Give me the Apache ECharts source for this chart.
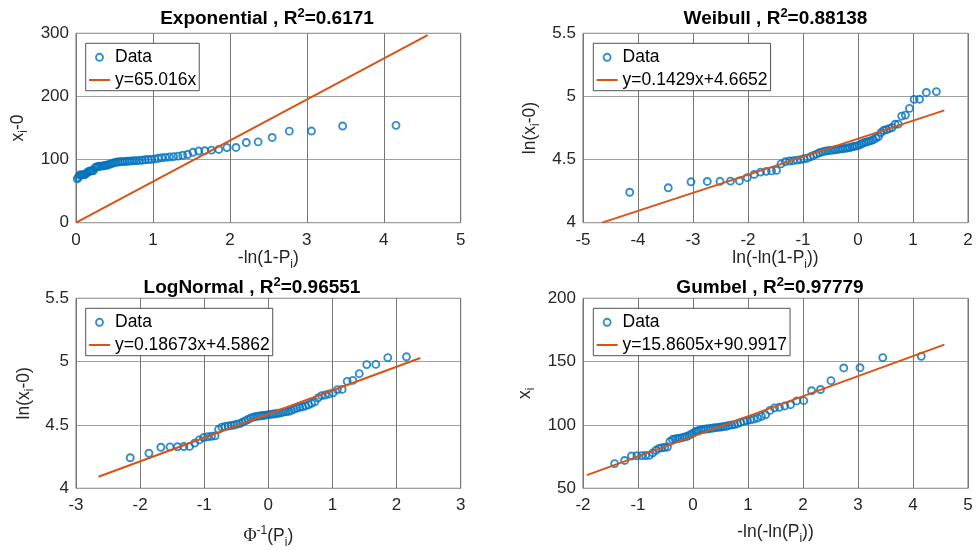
<!DOCTYPE html>
<html>
<head>
<meta charset="utf-8">
<script src="https://cdn.jsdelivr.net/npm/echarts@6/dist/echarts.min.js"></script>
<style>
  html, body { margin: 0; padding: 0; background: #fff; }
  #chart { width: 976px; height: 550px; }
</style>
</head>
<body>
<div id="chart"></div>
<script>
// Sorted sample, n = 63
const sample = [
  69.5, 72, 75.5, 75.7, 75.8, 75.9, 76, 78, 80, 81.5,
  82, 82.3, 82.6, 87, 88.5, 89, 89.3, 89.6, 90, 90.6,
  91, 92, 93, 94, 95, 95.7, 96.2, 96.5, 96.8, 97,
  97.3, 97.6, 97.9, 98.1, 98.4, 98.7, 99, 99.6, 100, 100.3,
  101, 102, 102.8, 103.5, 104, 104.6, 105.5, 106.8, 108, 111.5,
  113.5, 114, 115, 116, 119, 119.2, 127, 128, 135, 145,
  145.2, 153.2, 154.2
];

// Fitted lines: [slope, intercept]
const expFit = [65.016, 0];
const weiFit = [0.1429, 4.6652];
const logFit = [0.18673, 4.5862];
const gumFit = [15.8605, 90.9917];

// Horizontal extent of each fitted line
const expSpan = [0, 4.57];
const weiSpan = [-4.65, 1.57];
const logSpan = [-2.65, 2.37];
const gumSpan = [-1.93, 4.57];

// Panel texts
const panelNames = ['Exponential', 'Weibull', 'LogNormal', 'Gumbel'];
const rSquared = ['0.6171', '0.88138', '0.96551', '0.97779'];
const fitLabels = ['y=65.016x', 'y=0.1429x+4.6652', 'y=0.18673x+4.5862', 'y=15.8605x+90.9917'];

// Axis ranges: [min, max, interval]
const xRanges = [[0, 5, 1], [-5, 2, 1], [-3, 3, 1], [-2, 5, 1]];
const yRanges = [[0, 300, 100], [4, 5.5, 0.5], [4, 5.5, 0.5], [50, 200, 50]];

// Inverse standard normal CDF (Acklam)
function normInv(p) {
  const a = [-3.969683028665376e+01, 2.209460984245205e+02, -2.759285104469687e+02, 1.383577518672690e+02, -3.066479806614716e+01, 2.506628277459239e+00];
  const b = [-5.447609879822406e+01, 1.615858368580409e+02, -1.556989798598866e+02, 6.680131188771972e+01, -1.328068155288572e+01];
  const c = [-7.784894002430293e-03, -3.223964580411365e-01, -2.400758277161838e+00, -2.549732539343734e+00, 4.374664141464968e+00, 2.938163982698783e+00];
  const d = [7.784695709041462e-03, 3.224671290700398e-01, 2.445134137142996e+00, 3.754408661907416e+00];
  const pl = 0.02425, ph = 1 - pl;
  let q, r;
  if (p < pl) {
    q = Math.sqrt(-2 * Math.log(p));
    return (((((c[0]*q+c[1])*q+c[2])*q+c[3])*q+c[4])*q+c[5]) / ((((d[0]*q+d[1])*q+d[2])*q+d[3])*q+1);
  }
  if (p > ph) {
    q = Math.sqrt(-2 * Math.log(1 - p));
    return -(((((c[0]*q+c[1])*q+c[2])*q+c[3])*q+c[4])*q+c[5]) / ((((d[0]*q+d[1])*q+d[2])*q+d[3])*q+1);
  }
  q = p - 0.5; r = q * q;
  return (((((a[0]*r+a[1])*r+a[2])*r+a[3])*r+a[4])*r+a[5])*q / (((((b[0]*r+b[1])*r+b[2])*r+b[3])*r+b[4])*r+1);
}

// Plotting positions P_i = i/(n+1) and the four probability-paper transforms
const n = sample.length;
const P = sample.map((_, i) => (i + 1) / (n + 1));
const expPts = sample.map((v, i) => [-Math.log(1 - P[i]), v]);
const weiPts = sample.map((v, i) => [Math.log(-Math.log(1 - P[i])), Math.log(v)]);
const logPts = sample.map((v, i) => [normInv(P[i]), Math.log(v)]);
const gumPts = sample.map((v, i) => [-Math.log(-Math.log(P[i])), v]);

function fitLine(fit, span) {
  return span.map(x => [x, fit[0] * x + fit[1]]);
}

const FONT = 'Liberation Sans, Arial, Helvetica, sans-serif';
const INK = '#262626';
const BLUE = '#0072BD';
const ORANGE = '#D95319';

const grids = [
  { left: 76, top: 33.3, width: 384.7, height: 189.4 },
  { left: 583, top: 33.3, width: 385, height: 189.4 },
  { left: 76, top: 298.3, width: 384.7, height: 190 },
  { left: 583, top: 298.3, width: 385, height: 190 }
];

const nameRich = {
  n: { fontSize: 17.5, lineHeight: 24, fontFamily: FONT, color: INK },
  s: { fontSize: 12, lineHeight: 12, verticalAlign: 'bottom', fontFamily: FONT, color: INK },
  p: { fontSize: 12, lineHeight: 12, verticalAlign: 'top', fontFamily: FONT, color: INK },
  f: { fontSize: 18, lineHeight: 24, fontFamily: 'Liberation Serif, serif', color: INK }
};

const xNames = [
  '{n|-ln(1-P}{s|i}{n|)}',
  '{n|ln(-ln(1-P}{s|i}{n|))}',
  '{f|\u03A6}{p|-1}{n|(P}{s|i}{n|)}',
  '{n|-ln(-ln(P}{s|i}{n|))}'
];
const yNames = [
  '{n|x}{s|i}{n|-0}',
  '{n|ln(x}{s|i}{n|-0)}',
  '{n|ln(x}{s|i}{n|-0)}',
  '{n|x}{s|i}'
];
const xNameGaps = [20, 23, 36, 32];
const yNameGaps = [46, 41, 40, 46];

const titlePos = [[267, 7], [775.5, 6.5], [252, 275.5], [770, 275.5]];
const legendPos = [[85.7, 43.3], [593.3, 43.3], [85.7, 308.3], [593.3, 308.3]];

const xAxis = xRanges.map((r, k) => ({
  type: 'value', gridIndex: k, min: r[0], max: r[1], interval: r[2],
  name: xNames[k], nameLocation: 'middle', nameGap: xNameGaps[k],
  nameTextStyle: { rich: nameRich },
  axisLine: { show: false }, axisTick: { show: false },
  axisLabel: { color: INK, fontSize: 17, fontFamily: FONT, margin: 9 },
  splitLine: { show: true, lineStyle: { color: '#767676', width: 1 } }
}));

const yAxis = yRanges.map((r, k) => ({
  type: 'value', gridIndex: k, min: r[0], max: r[1], interval: r[2],
  name: yNames[k], nameLocation: 'middle', nameGap: yNameGaps[k],
  nameTextStyle: { rich: nameRich },
  axisLine: { show: false }, axisTick: { show: false },
  axisLabel: { color: INK, fontSize: 17, fontFamily: FONT, margin: 7 },
  splitLine: { show: true, lineStyle: { color: '#a0a0a0', width: 1 } }
}));

const pointSets = [expPts, weiPts, logPts, gumPts];
const fits = [fitLine(expFit, expSpan), fitLine(weiFit, weiSpan), fitLine(logFit, logSpan), fitLine(gumFit, gumSpan)];

const series = [];
pointSets.forEach((pts, k) => {
  series.push({
    type: 'scatter', name: 'Data', xAxisIndex: k, yAxisIndex: k,
    data: pts, symbol: 'circle', symbolSize: 7,
    itemStyle: { color: 'rgba(0,0,0,0)', borderColor: BLUE, borderWidth: 1.9 },
    emphasis: { disabled: true }
  });
  series.push({
    type: 'line', name: fitLabels[k], xAxisIndex: k, yAxisIndex: k,
    data: fits[k], symbol: 'none', showSymbol: false,
    lineStyle: { color: ORANGE, width: 2 }, itemStyle: { color: ORANGE },
    emphasis: { disabled: true }
  });
});

const title = panelNames.map((nm, k) => ({
  text: '{b|' + nm + ' , R}{u|2}{b|=' + rSquared[k] + '}',
  left: titlePos[k][0], top: titlePos[k][1], textAlign: 'center', padding: 0,
  textStyle: {
    rich: {
      b: { fontSize: 19, fontWeight: 'bold', lineHeight: 24, fontFamily: FONT, color: '#000' },
      u: { fontSize: 13, fontWeight: 'bold', lineHeight: 13, verticalAlign: 'top', fontFamily: FONT, color: '#000' }
    }
  }
}));

const legend = fitLabels.map((lab, k) => ({
  orient: 'vertical', left: legendPos[k][0], top: legendPos[k][1],
  padding: [4, 3, 0.7, 2.3], itemGap: 2.7, itemWidth: 21, itemHeight: 7,
  backgroundColor: '#fff', borderColor: INK, borderWidth: 0.8, borderRadius: 0,
  selectedMode: false,
  textStyle: { fontSize: 17.5, fontFamily: FONT, color: '#000', lineHeight: 20 },
  data: [
    { name: 'Data', icon: 'circle', itemStyle: { color: '#fff', borderColor: BLUE, borderWidth: 1.9 } },
    { name: lab, itemStyle: { opacity: 0 }, lineStyle: { color: ORANGE, width: 2 } }
  ]
}));

const chart = echarts.init(document.getElementById('chart'), null, { renderer: 'canvas' });
chart.setOption({
  animation: false,
  backgroundColor: '#fff',
  title: title,
  legend: legend,
  grid: grids.map(g => Object.assign({ show: true, borderColor: '#707070', borderWidth: 1, backgroundColor: 'transparent' }, g)),
  xAxis: xAxis,
  yAxis: yAxis,
  series: series
});
</script>
</body>
</html>
